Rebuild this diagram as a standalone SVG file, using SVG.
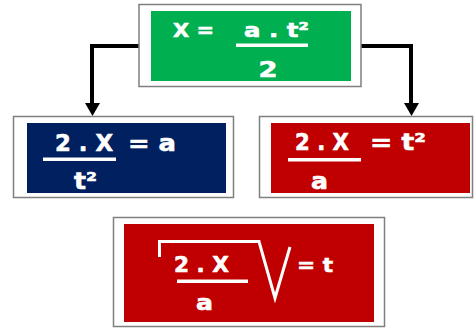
<svg xmlns="http://www.w3.org/2000/svg" width="476" height="328" viewBox="0 0 476 328">
<style>
.frame{fill:#fff;stroke:#7f7f7f;stroke-width:1.5}
.t{fill:#fff;stroke:#fff;stroke-width:0.6;font-family:"DejaVu Sans",Verdana,sans-serif;font-weight:bold}
.bar{fill:#fff}
.conn{fill:none;stroke:#000;stroke-width:4}
.head{fill:#000}
</style>
<g id="connectors">
<path class="conn" d="M139,46 L92,46 L92,104"/>
<path class="head" d="M85,103 L100,103 L92.5,116 Z"/>
<path class="conn" d="M361,46 L411,46 L411,104"/>
<path class="head" d="M404,103 L419,103 L411.5,116 Z"/>
</g>
<g id="top">
<rect class="frame" x="139" y="4.5" width="222" height="82"/>
<rect x="151" y="11" width="200" height="70" fill="#00b050"/>
<text class="t" x="173" y="37" font-size="20" textLength="41" lengthAdjust="spacingAndGlyphs">X =</text>
<text class="t" x="244" y="37" font-size="20" textLength="65" lengthAdjust="spacingAndGlyphs">a . t²</text>
<rect class="bar" x="236" y="43.5" width="72" height="3.5"/>
<text class="t" x="258.5" y="77" font-size="21" textLength="19" lengthAdjust="spacingAndGlyphs">2</text>
</g>
<g id="left">
<rect class="frame" x="13.5" y="116.5" width="220" height="81"/>
<rect x="27" y="123" width="199" height="70" fill="#002060"/>
<text class="t" x="55" y="151" font-size="23" textLength="58" lengthAdjust="spacingAndGlyphs">2 . X</text>
<text class="t" x="128" y="151" font-size="23" textLength="48" lengthAdjust="spacingAndGlyphs">= a</text>
<rect class="bar" x="43" y="157.5" width="73" height="3.5"/>
<text class="t" x="74" y="189" font-size="23" textLength="23" lengthAdjust="spacingAndGlyphs">t²</text>
</g>
<g id="right">
<rect class="frame" x="259.5" y="116.5" width="213" height="81"/>
<rect x="271" y="123" width="199" height="70" fill="#c00000"/>
<text class="t" x="295" y="150" font-size="23" textLength="54" lengthAdjust="spacingAndGlyphs">2 . X</text>
<text class="t" x="370" y="150" font-size="23" textLength="56" lengthAdjust="spacingAndGlyphs">= t²</text>
<rect class="bar" x="288" y="158" width="73" height="3.5"/>
<text class="t" x="311" y="189" font-size="23" textLength="17" lengthAdjust="spacingAndGlyphs">a</text>
</g>
<g id="bottom">
<rect class="frame" x="113.5" y="217.5" width="271" height="109"/>
<rect x="124" y="224" width="250" height="98" fill="#c00000"/>
<path d="M159.5,257 L159.5,241.5 L259,241.5 L275,298 L290,247" fill="none" stroke="#fff" stroke-width="3" stroke-linejoin="miter"/>
<text class="t" x="174" y="272" font-size="21" textLength="55" lengthAdjust="spacingAndGlyphs">2 . X</text>
<rect class="bar" x="177" y="279.5" width="71" height="3.5"/>
<text class="t" x="196" y="310" font-size="21" textLength="17" lengthAdjust="spacingAndGlyphs">a</text>
<text class="t" x="297" y="272" font-size="20" textLength="36" lengthAdjust="spacingAndGlyphs">= t</text>
</g>
</svg>
